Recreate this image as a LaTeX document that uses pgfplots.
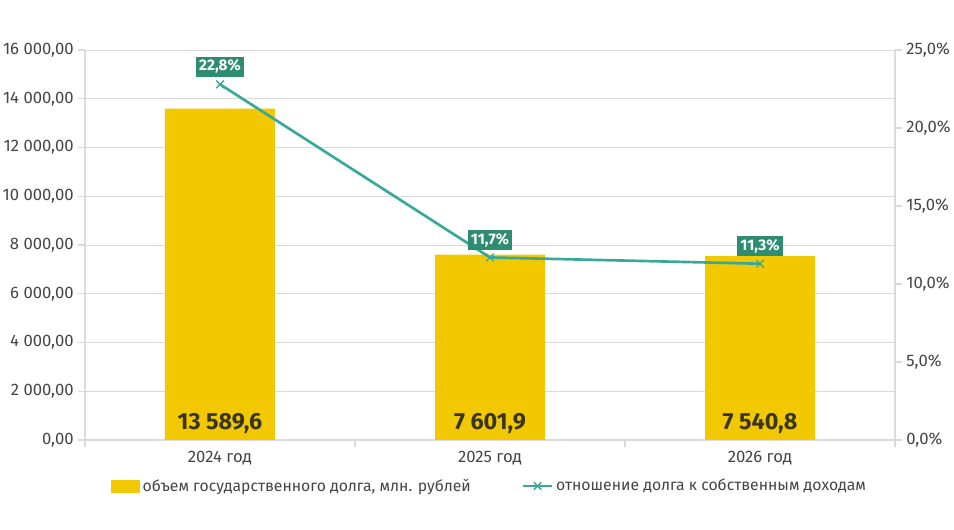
\documentclass[border=0pt]{standalone}
\usepackage{fontspec}
\setmainfont{Fira Sans}
\usepackage{pgfplots}
\pgfplotsset{compat=1.18}
\definecolor{baryel}{HTML}{F2C800}
\definecolor{lineteal}{HTML}{3AA898}
\definecolor{boxgreen}{HTML}{2E8C70}
\definecolor{gridgray}{HTML}{DADADA}
\definecolor{txtgray}{HTML}{454545}
\definecolor{barlbl}{HTML}{3A3520}
\pgfplotsset{
  markline legend/.style={legend image code/.code={%
    \draw[##1, mark repeat=2, mark phase=2]
      plot coordinates {(0pt,0pt) (11pt,0pt) (22pt,0pt)};}},
  barbox legend/.style={legend image code/.code={%
    \fill[baryel] (0pt,-4.5pt) rectangle (21pt,4.5pt);}},
}

\begin{document}
\begin{tikzpicture}
\pgfplotsset{
  every axis/.append style={
    scale only axis, width=607.5pt, height=292.5pt,
    xmin=-0.5, xmax=2.5,
    axis line style={gridgray, line width=0.8pt},
    tick style={gridgray, line width=0.8pt},
    tick align=outside, major tick length=5pt,
    ticklabel style={font=\fontsize{12.5}{14}\selectfont, text=txtgray},
  }
}
% left axis: debt volume
\begin{axis}[
  ymin=0, ymax=16000,
  ytick={0,2000,...,16000},
  scaled y ticks=false,
  axis x line*=bottom, axis y line*=left,
  ymajorgrids, grid style={gridgray, line width=0.6pt},
  xtick={-0.5,0.5,1.5,2.5}, xticklabels={},
  extra x ticks={0,1,2},
  extra x tick labels={2024 год,2025 год,2026 год},
  extra x tick style={major tick length=0pt, grid=none,
    tick label style={yshift=-5pt}},
  yticklabel={\pgfmathprintnumber[fixed, fixed zerofill, precision=2,
    use comma, 1000 sep={\ }, assume math mode=true]{\tick}},
]
\addplot[ybar, bar width=82.5pt, fill=baryel, draw=none,
  point meta=y,
  visualization depends on=y \as \rawy,
  nodes near coords={\pgfmathprintnumber[fixed, fixed zerofill, precision=1,
    use comma, 1000 sep={\ }, assume math mode=true]{\pgfplotspointmeta}},
  every node near coord/.append style={anchor=base, text=barlbl,
    font=\fontsize{17.5}{19}\selectfont\bfseries,
    shift={(axis direction cs:0,-\rawy)}, yshift=8pt},
] coordinates {(0,13589.6) (1,7601.9) (2,7540.8)};
\coordinate (bl) at (rel axis cs:0,0);
\coordinate (tr) at (rel axis cs:1,1);
\end{axis}
% right axis: debt to own revenue ratio
\begin{axis}[
  ymin=0, ymax=25,
  ytick={0,5,...,25},
  axis y line*=right, axis x line=none,
  yticklabel={\pgfmathprintnumber[fixed, fixed zerofill, precision=1,
    use comma, assume math mode=true]{\tick}\%},
  legend columns=2,
  legend style={at={(0.5,-0.118)}, anchor=center, draw=none, fill=none,
    font=\fontsize{11.8}{13}\selectfont, text=txtgray,
    /tikz/every even column/.append style={column sep=36pt}},
]
\addlegendimage{barbox legend}
\addlegendentry{объем государственного долга, млн. рублей}
\addplot[lineteal, line width=2pt, mark=x, mark size=4pt,
  mark options={line width=1pt},
  point meta=y,
  nodes near coords={\pgfmathprintnumber[fixed, fixed zerofill, precision=1,
    use comma, assume math mode=true]{\pgfplotspointmeta}\%},
  every node near coord/.append style={fill=boxgreen, text=white,
    font=\fontsize{11.5}{13}\selectfont\bfseries, inner sep=2.5pt,
    anchor=south, yshift=5pt},
  markline legend,
] coordinates {(0,22.8) (1,11.7) (2,11.3)};
\addlegendentry{отношение долга к собственным доходам}
\end{axis}
\pgfresetboundingbox
\path[use as bounding box] ([shift={(-63.75pt,-67.5pt)}]bl) rectangle ([shift={(44.25pt,37.5pt)}]tr);
\end{tikzpicture}
\end{document}
